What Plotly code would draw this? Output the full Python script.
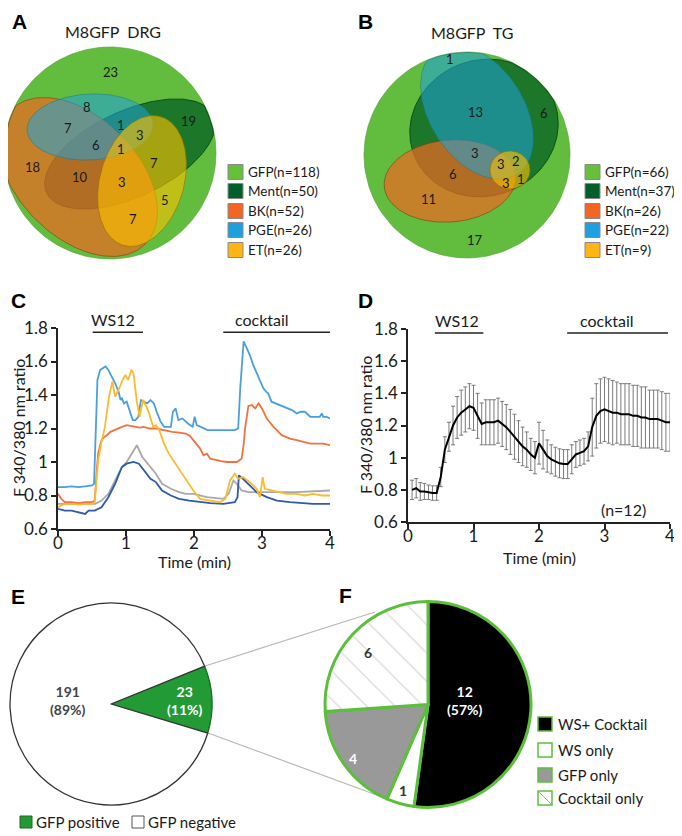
import numpy as np
import plotly.graph_objects as go

# page is shown with the browser's default 8px body margin
OFF = 8
W, H = 682 - OFF, 836 - OFF
def px(x): return (x - OFF) / W
def py(y): return 1 - (y - OFF) / H

FONT = "Lato"
BOLD = "Liberation Sans"

# ---------------- data ----------------
venn_names = ["GFP", "Ment", "BK", "PGE", "ET"]
venn_a_n = [118, 50, 52, 26, 26]
venn_b_n = [66, 37, 26, 22, 9]
venn_a_counts = [23, 8, 19, 7, 1, 3, 6, 1, 7, 18, 10, 3, 5, 7]
venn_b_counts = [1, 13, 6, 3, 3, 2, 6, 3, 1, 11, 17]

# panel C traces (time in min, F340/380 ratio)
c_blue_t = [0, 0.1, 0.2, 0.3, 0.4, 0.5, 0.53, 0.58, 0.62, 0.66, 0.70, 0.74, 0.79, 0.84, 0.89, 0.92,
            0.94, 0.97, 1.01, 1.06, 1.10, 1.14, 1.18, 1.22, 1.26, 1.31, 1.36, 1.41, 1.46, 1.51, 1.56,
            1.62, 1.66, 1.69, 1.73, 1.77, 1.83, 1.91, 1.98, 2.01, 2.04, 2.1, 2.2, 2.3, 2.4, 2.5, 2.6,
            2.65, 2.68, 2.73, 2.78, 2.82, 2.87, 2.92, 2.97, 3.02, 3.06, 3.09, 3.14, 3.2, 3.24, 3.3,
            3.36, 3.44, 3.51, 3.57, 3.63, 3.68, 3.71, 3.76, 3.80, 3.85, 3.88, 3.90, 3.95, 4.0]
c_blue_v = [0.85, 0.85, 0.855, 0.85, 0.855, 0.86, 0.87, 1.49, 1.55, 1.56, 1.57, 1.55, 1.51, 1.47, 1.42, 1.37,
            1.38, 1.35, 1.36, 1.29, 1.25, 1.25, 1.27, 1.37, 1.36, 1.35, 1.37, 1.35, 1.29, 1.24, 1.21,
            1.21, 1.21, 1.30, 1.32, 1.25, 1.26, 1.23, 1.21, 1.27, 1.22, 1.21, 1.19, 1.19, 1.19, 1.19, 1.19,
            1.20, 1.44, 1.72, 1.68, 1.64, 1.58, 1.53, 1.48, 1.44, 1.42, 1.41, 1.36, 1.35, 1.34, 1.33,
            1.32, 1.31, 1.29, 1.30, 1.30, 1.28, 1.27, 1.27, 1.27, 1.27, 1.29, 1.27, 1.27, 1.26]
c_orange_t = [0, 0.05, 0.1, 0.2, 0.3, 0.4, 0.5, 0.54, 0.57, 0.59, 0.62, 0.64, 0.68, 0.72, 0.77, 0.82,
              0.88, 0.94, 1.01, 1.08, 1.14, 1.2, 1.26, 1.35, 1.44, 1.55, 1.68, 1.78, 1.88, 1.94, 1.99,
              2.04, 2.09, 2.14, 2.19, 2.24, 2.33, 2.4, 2.48, 2.56, 2.63, 2.70, 2.73, 2.75, 2.78, 2.80,
              2.85, 2.90, 2.95, 3.0, 3.07, 3.17, 3.29, 3.41, 3.51, 3.61, 3.71, 3.80, 3.90, 4.0]
c_orange_v = [0.81, 0.78, 0.76, 0.76, 0.755, 0.76, 0.76, 0.77, 0.95, 1.05, 1.10, 1.13, 1.15, 1.16, 1.18, 1.19,
              1.20, 1.21, 1.22, 1.215, 1.21, 1.205, 1.21, 1.20, 1.20, 1.19, 1.18, 1.175, 1.17, 1.155, 1.13,
              1.11, 1.08, 1.04, 1.05, 1.02, 1.01, 1.005, 1.00, 1.00, 1.00, 1.02, 1.10, 1.20, 1.30, 1.335,
              1.34, 1.32, 1.35, 1.32, 1.26, 1.21, 1.16, 1.14, 1.13, 1.12, 1.11, 1.11, 1.11, 1.10]
c_yellow_t = [0, 0.05, 0.1, 0.2, 0.3, 0.4, 0.5, 0.54, 0.59, 0.64, 0.69, 0.75, 0.80, 0.84, 0.89, 0.94,
              0.99, 1.03, 1.08, 1.11, 1.16, 1.20, 1.25, 1.30, 1.34, 1.40, 1.44, 1.49, 1.56, 1.63, 1.73,
              1.83, 1.93, 1.99, 2.09, 2.24, 2.38, 2.46, 2.53, 2.60, 2.65, 2.72, 2.82, 2.92, 2.97, 3.01,
              3.04, 3.14, 3.24, 3.36, 3.51, 3.63, 3.75, 3.88, 4.0]
c_yellow_v = [0.73, 0.74, 0.75, 0.75, 0.745, 0.75, 0.75, 0.76, 1.01, 1.12, 1.21, 1.39, 1.48, 1.39, 1.43, 1.48,
              1.52, 1.49, 1.55, 1.53, 1.36, 1.27, 1.37, 1.33, 1.29, 1.21, 1.22, 1.19, 1.11, 1.05, 0.99,
              0.93, 0.87, 0.83, 0.78, 0.77, 0.76, 0.78, 0.89, 0.93, 0.90, 0.91, 0.88, 0.84, 0.79, 0.91,
              0.84, 0.83, 0.82, 0.81, 0.81, 0.80, 0.81, 0.80, 0.80]
c_grey_t = [0, 0.2, 0.4, 0.55, 0.64, 0.74, 0.84, 0.94, 1.01, 1.09, 1.16, 1.24, 1.34, 1.44, 1.53,
            1.66, 1.78, 1.88, 1.99, 2.19, 2.43, 2.51, 2.58, 2.65, 2.70, 2.8, 3.0, 3.5, 4.0]
c_grey_v = [0.75, 0.75, 0.75, 0.75, 0.77, 0.81, 0.89, 0.97, 1.0, 1.05, 1.10, 1.03, 0.98, 0.93, 0.87,
            0.84, 0.82, 0.81, 0.81, 0.79, 0.78, 0.81, 0.89, 0.86, 0.83, 0.82, 0.82, 0.82, 0.83]
c_navy_t = [0, 0.1, 0.2, 0.3, 0.4, 0.45, 0.54, 0.64, 0.74, 0.84, 0.94, 1.01, 1.11, 1.19, 1.26, 1.36,
            1.44, 1.53, 1.66, 1.78, 1.93, 2.09, 2.24, 2.43, 2.60, 2.64, 2.66, 2.72, 2.82, 2.92, 3.07,
            3.22, 3.41, 3.61, 3.75, 4.0]
c_navy_v = [0.72, 0.71, 0.71, 0.70, 0.69, 0.71, 0.71, 0.73, 0.79, 0.87, 0.97, 0.99, 1.0, 0.99, 0.95, 0.90,
            0.88, 0.83, 0.80, 0.78, 0.77, 0.76, 0.755, 0.75, 0.76, 0.79, 0.92, 0.90, 0.86, 0.82, 0.79,
            0.77, 0.76, 0.755, 0.75, 0.75]

# panel D: mean +/- SEM (n=12), sampled every 3.75 s
d_time = [i * 0.0625 for i in range(1, 65)]
d_mean = [0.80, 0.81, 0.79, 0.79, 0.785, 0.78, 0.78, 0.88, 1.05, 1.13, 1.20, 1.25, 1.28, 1.30, 1.32, 1.31,
          1.26, 1.21, 1.22, 1.22, 1.22, 1.23, 1.21, 1.19, 1.16, 1.13, 1.10, 1.07, 1.05, 1.02, 1.00, 1.09,
          1.05, 1.01, 0.99, 0.975, 0.965, 0.96, 0.96, 0.99, 1.02, 1.03, 1.04, 1.07, 1.19, 1.26, 1.29, 1.30,
          1.29, 1.28, 1.28, 1.27, 1.27, 1.27, 1.26, 1.26, 1.25, 1.25, 1.24, 1.24, 1.24, 1.23, 1.22, 1.22]
d_err = [0.06, 0.06, 0.055, 0.05, 0.045, 0.045, 0.045, 0.06, 0.08, 0.09, 0.12, 0.13, 0.14, 0.14, 0.14, 0.14,
         0.14, 0.13, 0.14, 0.14, 0.14, 0.14, 0.14, 0.14, 0.14, 0.14, 0.13, 0.12, 0.11, 0.10, 0.10, 0.13,
         0.12, 0.10, 0.09, 0.09, 0.09, 0.09, 0.09, 0.09, 0.08, 0.08, 0.08, 0.09, 0.18, 0.20, 0.20, 0.20,
         0.20, 0.20, 0.19, 0.19, 0.19, 0.19, 0.19, 0.19, 0.19, 0.19, 0.18, 0.18, 0.18, 0.18, 0.18, 0.18]

# stimulus periods (min)
c_ws12 = [0.51, 1.25]
c_cocktail = [2.43, 4.0]
d_ws12 = [0.41, 1.15]
d_cocktail = [2.43, 3.97]

# panel E / F
e_labels = ["GFP positive", "GFP negative"]
e_values = [23, 191]
e_pct = [11, 89]
f_labels = ["WS+ Cocktail", "WS only", "GFP only", "Cocktail only"]
f_values = [12, 1, 4, 6]
f_pct_text = ["57%"]

# ---------------- styles / geometry ----------------
venn_legend_colors = ["#66c03c", "#00602a", "#f26522", "#1e9fe0", "#fdb515"]
venn_fill = {
    "GFP": "rgb(98,189,63)",
    "Ment": "rgba(0,90,35,0.70)",
    "BK": "rgba(235,105,35,0.72)",
    "PGE": "rgba(31,163,221,0.55)",
    "ET": "rgba(250,190,0,0.62)",
}
venn_line = {
    "GFP": "rgba(80,160,50,0.6)",
    "Ment": "rgba(0,60,20,0.8)",
    "BK": "rgba(120,60,20,0.6)",
    "PGE": "rgba(20,120,140,0.5)",
    "ET": "rgba(150,110,0,0.6)",
}
draw_order = ["GFP", "Ment", "BK", "PGE", "ET"]
# ellipse geometry (cx, cy, rx, ry, angle) in page pixels
geom_a = {"GFP": (110, 153, 106, 106, 0), "BK": (78, 177, 95, 60, 45), "PGE": (90, 127, 63, 33, -3),
          "Ment": (130, 154, 92, 43, -25), "ET": (142, 181, 42, 67, 16)}
geom_b = {"GFP": (467, 155, 103, 103, 0), "PGE": (477, 112, 74, 47, 57), "Ment": (484, 128, 75, 68, -20),
          "BK": (450, 181, 66, 41, -5), "ET": (510, 170, 20, 19, 0)}
pos_a = [(110, 72), (87, 107), (188, 121), (68, 128), (121, 125), (140, 135), (96, 145), (121, 149),
         (154, 163), (32, 167), (80, 177), (122, 182), (165, 200), (133, 219)]
pos_b = [(450, 59), (475, 112), (544, 113), (475, 153), (501, 164), (516, 161), (453, 174), (506, 183),
         (521, 179), (428, 199), (475, 240)]


def ellipse_xy(g, clip=None, n=180):
    cx, cy, rx, ry, ang = g
    t = np.linspace(0, 2 * np.pi, n)
    th = np.radians(ang)
    x = cx + rx * np.cos(t) * np.cos(th) - ry * np.sin(t) * np.sin(th)
    y = cy + rx * np.cos(t) * np.sin(th) + ry * np.sin(t) * np.cos(th)
    if clip is not None:
        ccx, ccy, cr = clip[0], clip[1], clip[2]
        dx, dy = x - ccx, y - ccy
        d = np.hypot(dx, dy)
        f = np.minimum(1.0, (cr - 0.5) / d)
        x, y = ccx + dx * f, ccy + dy * f
    return x, y


def pann(x, y, text, size, color="#1a1a1a", family=FONT, xanchor="center", **kw):
    return dict(x=px(x), y=py(y), xref="paper", yref="paper", text=text, showarrow=False,
                xanchor=xanchor, yanchor="middle", font=dict(family=family, size=size, color=color), **kw)


fig = go.Figure()

# ---------------- Venn A & B ----------------
for geom, xa, ya in [(geom_a, "x3", "y3"), (geom_b, "x4", "y4")]:
    clip = geom["GFP"]
    for name in draw_order:
        x, y = ellipse_xy(geom[name], clip if name != "GFP" else None)
        fig.add_trace(go.Scatter(x=x, y=y, mode="lines", fill="toself", fillcolor=venn_fill[name],
                                 line=dict(color=venn_line[name], width=1), xaxis=xa, yaxis=ya,
                                 showlegend=False, hoverinfo="skip"))

annotations = []
for cnt, (x, y) in zip(venn_a_counts, pos_a):
    annotations.append(dict(x=x, y=y, xref="x3", yref="y3", text=str(cnt), showarrow=False,
                            xanchor="center", yanchor="middle",
                            font=dict(family=FONT, size=13, color="#1a1a1a")))
for cnt, (x, y) in zip(venn_b_counts, pos_b):
    annotations.append(dict(x=x, y=y, xref="x4", yref="y4", text=str(cnt), showarrow=False,
                            xanchor="center", yanchor="middle",
                            font=dict(family=FONT, size=13, color="#1a1a1a")))

shapes = []
legend_rows = [172, 191, 211, 230, 250]
for bx, ns in [(228, venn_a_n), (585, venn_b_n)]:
    for i, (nm, n) in enumerate(zip(venn_names, ns)):
        yc = legend_rows[i]
        shapes.append(dict(type="rect", xref="paper", yref="paper", x0=px(bx), x1=px(bx + 15),
                           y0=py(yc + 7.5), y1=py(yc - 7.5), fillcolor=venn_legend_colors[i],
                           line=dict(color="#8a8a8a", width=1)))
        annotations.append(pann(bx + 18, yc, f"{nm}(n={n})", 13.5, xanchor="left"))

annotations.append(pann(113, 31, "M8GFP\u00a0\u00a0DRG", 16))
annotations.append(pann(472, 32, "M8GFP\u00a0\u00a0TG", 16))

# ---------------- Panel C ----------------
for t, v, col in [(c_grey_t, c_grey_v, "#a9a9a9"), (c_navy_t, c_navy_v, "#2e5aa8"),
                  (c_orange_t, c_orange_v, "#f27141"), (c_blue_t, c_blue_v, "#4a9fe0"),
                  (c_yellow_t, c_yellow_v, "#fbbb2e")]:
    fig.add_trace(go.Scatter(x=t, y=v, mode="lines", line=dict(color=col, width=1.8),
                             xaxis="x", yaxis="y", showlegend=False))

# ---------------- Panel D ----------------
fig.add_trace(go.Scatter(x=d_time, y=d_mean, mode="lines", line=dict(color="black", width=2),
                         error_y=dict(type="data", array=d_err, visible=True, color="#7a7a7a",
                                      thickness=1, width=2),
                         xaxis="x2", yaxis="y2", showlegend=False))

# stimulus bars + labels
BAR_Y = 1.775
for ws, ck, xa, ya, wsx, ckx in [(c_ws12, c_cocktail, "x", "y", 0.81, 3.0),
                                 (d_ws12, d_cocktail, "x2", "y2", 0.75, 3.04)]:
    for seg in (ws, ck):
        fig.add_trace(go.Scatter(x=seg, y=[BAR_Y, BAR_Y], mode="lines", line=dict(color="#222", width=1.6),
                                 xaxis=xa, yaxis=ya, showlegend=False, hoverinfo="skip"))
    annotations.append(dict(x=wsx, y=BAR_Y, xref=xa, yref=ya, text="WS12", showarrow=False,
                            xanchor="center", yanchor="bottom", yshift=1,
                            font=dict(family=FONT, size=16, color="#1a1a1a")))
    annotations.append(dict(x=ckx, y=BAR_Y, xref=xa, yref=ya, text="cocktail", showarrow=False,
                            xanchor="center", yanchor="bottom", yshift=1,
                            font=dict(family=FONT, size=16, color="#1a1a1a")))

annotations.append(dict(x=3.29, y=0.68, xref="x2", yref="y2", text="(n=12)", showarrow=False,
                        xanchor="center", yanchor="middle", font=dict(family=FONT, size=16, color="#1a1a1a")))

# axis titles
annotations.append(pann(194, 561, "Time (min)", 16))
annotations.append(pann(539, 557, "Time (min)", 16))
annotations.append(pann(18, 428, "F 340/380 nm ratio", 16, textangle=-90))
annotations.append(pann(365, 425, "F 340/380 nm ratio", 16, textangle=-90))

# ---------------- Panel E ----------------
fig.add_trace(go.Pie(values=e_values, labels=e_labels, sort=False, direction="clockwise", rotation=68,
                     textinfo="none", textposition="inside", automargin=False,
                     domain=dict(x=[px(10), px(212)], y=[py(805), py(603)]),
                     marker=dict(colors=["#229a35", "white"],
                                 line=dict(color=["#1b6b25", "#333333"], width=1.3)),
                     showlegend=False))
annotations.append(pann(68, 700, f"<b>{e_values[1]}<br>({e_pct[1]}%)</b>", 14, color="#444"))
annotations.append(pann(185, 700, f"<b>{e_values[0]}<br>({e_pct[0]}%)</b>", 14, color="white"))

# connecting lines
shapes.append(dict(type="line", xref="paper", yref="paper", x0=px(205), y0=py(666), x1=px(375), y1=py(612),
                   line=dict(color="#b8b8b8", width=1.2), layer="below"))
shapes.append(dict(type="line", xref="paper", yref="paper", x0=px(208), y0=py(733), x1=px(382), y1=py(797),
                   line=dict(color="#b8b8b8", width=1.2), layer="below"))

# ---------------- Panel F ----------------
fig.add_trace(go.Pie(values=f_values, labels=f_labels, sort=False, direction="clockwise", rotation=0,
                     textinfo="none", textposition="inside", automargin=False,
                     domain=dict(x=[px(325), px(531)], y=[py(807.5), py(601.5)]),
                     marker=dict(colors=["black", "white", "#999999", "white"],
                                 pattern=dict(shape=["", "", "", "\\"], fgcolor="#a8a8a8",
                                              fillmode="overlay", size=20, solidity=0.06),
                                 line=dict(color="#5cbf3c", width=3)),
                     showlegend=False))
annotations.append(pann(465, 700, f"<b>{f_values[0]}<br>({f_pct_text[0]})</b>", 14, color="white"))
for val, (x, y), col in [(f_values[3], (368, 652), "#333"), (f_values[2], (353, 758), "white"),
                         (f_values[1], (403, 790), "#333")]:
    annotations.append(pann(x, y, f"<b>{val}</b>", 14, color=col))

# legend F
f_leg_rows = [724, 750, 775, 798]
f_leg_fill = ["black", "white", "#999999", "white"]
for i, (lab, yc) in enumerate(zip(f_labels, f_leg_rows)):
    shapes.append(dict(type="rect", xref="paper", yref="paper", x0=px(538), x1=px(552),
                       y0=py(yc + 7), y1=py(yc - 7), fillcolor=f_leg_fill[i],
                       line=dict(color="#5cbf3c", width=1.5)))
    annotations.append(pann(556, yc, lab, 15, xanchor="left"))
shapes.append(dict(type="line", xref="paper", yref="paper", x0=px(539), y0=py(792), x1=px(551), y1=py(804),
                   line=dict(color="#a8a8a8", width=1)))

# legend E
for bx, col, lc, lab in [(20, "#229a35", "#1b6b25", e_labels[0]), (132, "white", "#555", e_labels[1])]:
    shapes.append(dict(type="rect", xref="paper", yref="paper", x0=px(bx), x1=px(bx + 12),
                       y0=py(828), y1=py(816), fillcolor=col, line=dict(color=lc, width=1)))
    annotations.append(pann(bx + 14, 822, lab, 15, xanchor="left"))

# panel letters
for letter, (x, y) in zip("ABCDEF", [(19, 22), (365, 22), (18, 300), (365, 300), (18, 596), (345, 595)]):
    annotations.append(pann(x, y, f"<b>{letter}</b>", 21, color="black", family=BOLD))

axis_common = dict(showline=True, linecolor="#222", linewidth=1.5, ticks="outside", ticklen=5,
                   tickwidth=1.5, tickcolor="#222", showgrid=False, zeroline=False, automargin=False,
                   tickfont=dict(family=FONT, size=17, color="#1a1a1a"))
yt = dict(tickvals=[0.6, 0.8, 1.0, 1.2, 1.4, 1.6, 1.8], ticktext=["0.6", "0.8", "1", "1.2", "1.4", "1.6", "1.8"])
hidden = dict(visible=False, fixedrange=True, automargin=False, showgrid=False, zeroline=False)

fig.update_layout(
    width=W, height=H, margin=dict(l=0, r=0, t=0, b=0, pad=0, autoexpand=False),
    paper_bgcolor="white", plot_bgcolor="rgba(0,0,0,0)",
    font=dict(family=FONT),
    xaxis=dict(domain=[px(58), px(330)], range=[0, 4], dtick=1, anchor="y", ticklabelstandoff=-7,
               **axis_common),
    yaxis=dict(domain=[py(529), py(328)], range=[0.6, 1.8], anchor="x", **yt, **axis_common),
    xaxis2=dict(domain=[px(408), px(670)], range=[0, 4], dtick=1, anchor="y2", ticklabelstandoff=-7,
                **axis_common),
    yaxis2=dict(domain=[py(522), py(329)], range=[0.6, 1.8], anchor="x2", **yt, **axis_common),
    xaxis3=dict(domain=[0, px(230)], range=[OFF, 230], anchor="y3", **hidden),
    yaxis3=dict(domain=[py(270), py(40)], range=[270, 40], anchor="x3", **hidden),
    xaxis4=dict(domain=[px(340), px(580)], range=[340, 580], anchor="y4", **hidden),
    yaxis4=dict(domain=[py(270), py(40)], range=[270, 40], anchor="x4", **hidden),
    annotations=annotations, shapes=shapes, showlegend=False,
)

fig.write_html("out.html")
